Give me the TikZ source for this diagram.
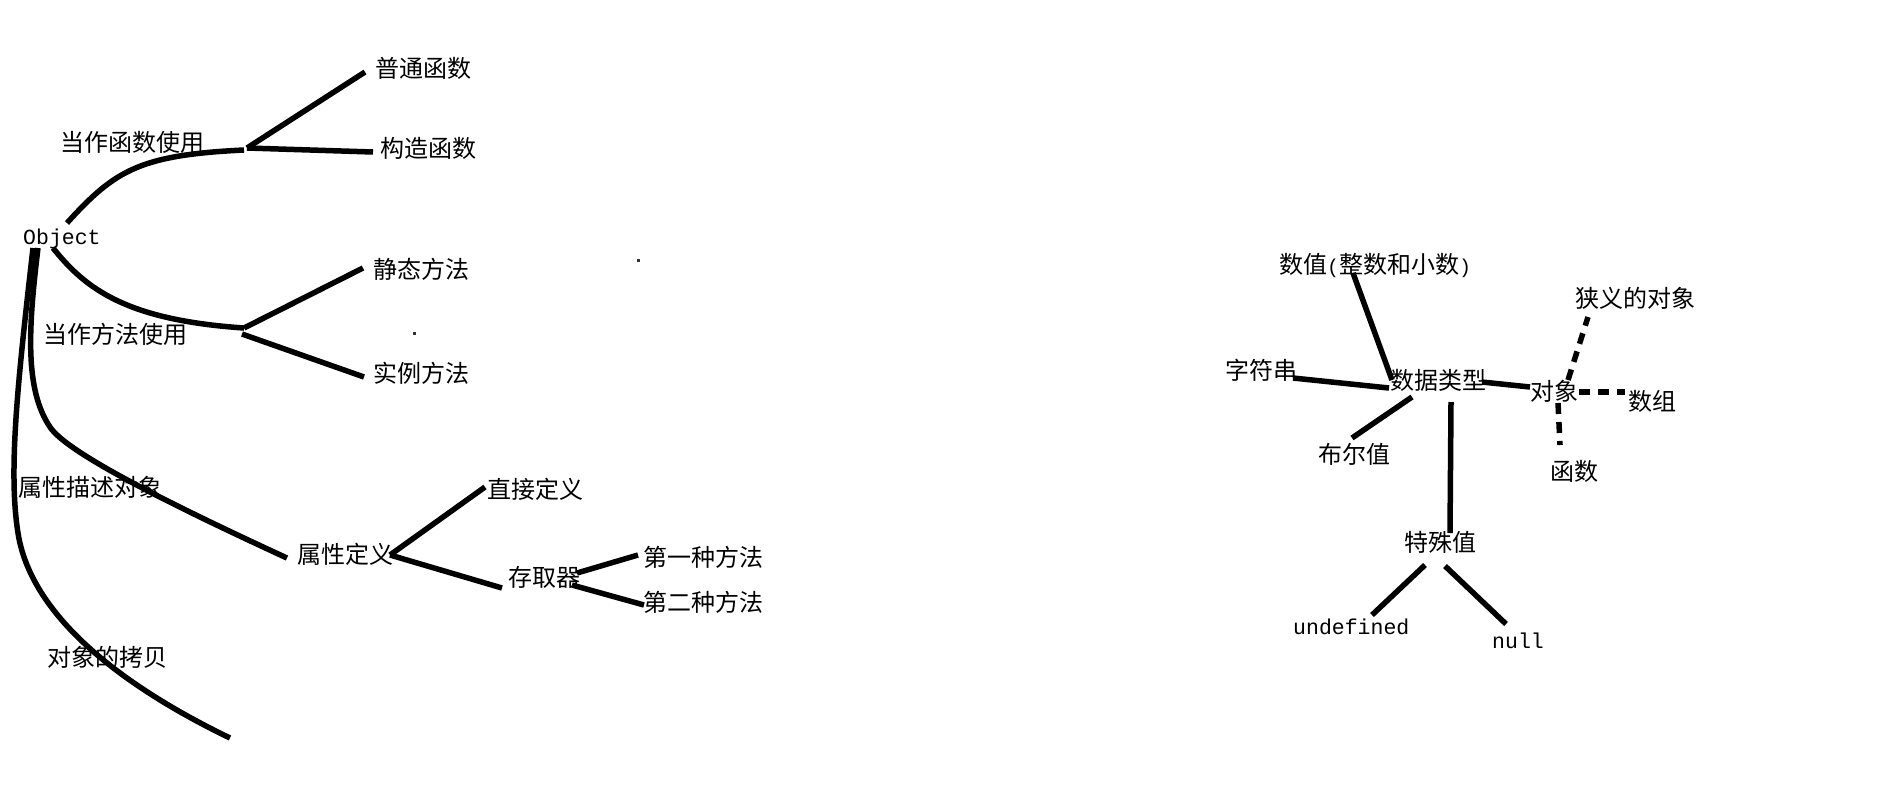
\documentclass[tikz,border=0pt]{standalone}
\usepackage{fontspec}
\newfontfamily\cjk{Noto Sans CJK SC}
\newfontfamily\monof{Liberation Mono}
\begin{document}
\begin{tikzpicture}[x=1pt,y=-1pt,
  zh/.style={font=\cjk\fontsize{24}{24}\selectfont, inner sep=0pt, anchor=west},
  en/.style={font=\monof\fontsize{21.5}{21.5}\selectfont, inner sep=0pt, anchor=base west},
  branch/.style={line width=5.5pt},
  dashbranch/.style={line width=5.5pt, dash pattern=on 11pt off 8pt}]
\fill[white] (0,0) rectangle (1886,793);
\useasboundingbox (0,0) rectangle (1886,793);

% ---------- left tree: labels ----------
\node[en] (obj) at (23,244) {Object};
\node[zh] (fnuse) at (60,142) {当作函数使用};
\node[zh] (ptfn) at (375,68) {普通函数};
\node[zh] (gzfn) at (380,148) {构造函数};
\node[zh] (mtuse) at (43,334) {当作方法使用};
\node[zh] (jtff) at (373,269) {静态方法};
\node[zh] (slff) at (373,373) {实例方法};
\node[zh] (sxms) at (18,487) {属性描述对象};
\node[zh] (sxdy) at (297,554) {属性定义};
\node[zh] (zjdy) at (487,489) {直接定义};
\node[zh] (cqq) at (508,577) {存取器};
\node[zh] (dyz) at (643,557) {第一种方法};
\node[zh] (dez) at (643,602) {第二种方法};
\node[zh] (dxkb) at (47,657) {对象的拷贝};

% ---------- left tree: connector ends ----------
\coordinate (oA) at (67,223);
\coordinate (jF) at (244,150);
\coordinate (jF2) at (247,148);
\coordinate (ptE) at (365,72);
\coordinate (gzE) at (373,152);
\coordinate (oB) at (53,248);
\coordinate (jM) at (244,328);
\coordinate (jM2) at (242,334);
\coordinate (jtE) at (363,268);
\coordinate (slE) at (364,377);
\coordinate (oL) at (33,248);
\coordinate (oLm) at (18,533);
\coordinate (kbE) at (230,738);
\coordinate (oR) at (38,248);
\coordinate (oRm) at (50,427);
\coordinate (sxE) at (287,558);
\coordinate (sxJ) at (390,555);
\coordinate (zjE) at (485,487);
\coordinate (cqE) at (502,588);
\coordinate (cq1) at (577,573);
\coordinate (m1E) at (638,555);
\coordinate (cq2) at (572,585);
\coordinate (m2E) at (644,605);

\draw[branch] (oA) .. controls (115,170) and (140,155) .. (jF);
\draw[branch] (jF2) -- (ptE);
\draw[branch] (jF2) -- (gzE);
\draw[branch] (oB) .. controls (85,288) and (125,320) .. (jM);
\draw[branch] (jM) -- (jtE);
\draw[branch] (jM2) -- (slE);
\draw[branch] (oL) .. controls (18,380) and (8,470) .. (oLm)
                   .. controls (30,610) and (110,680) .. (kbE);
\draw[branch] (oR) .. controls (28,330) and (25,390) .. (oRm)
                   .. controls (65,450) and (150,495) .. (sxE);
\draw[branch] (sxJ) -- (zjE);
\draw[branch] (sxJ) -- (cqE);
\draw[branch] (cq1) -- (m1E);
\draw[branch] (cq2) -- (m2E);

% stray specks
\fill[black!80] (637,259) rectangle (639.5,261.5);
\fill[black!80] (413,332) rectangle (415.5,334.5);

% ---------- right cluster: labels ----------
\node[zh] (sjlx) at (1390,380) {数据类型};
\node[zh] (sz) at (1279,265) {数值{\monof\fontsize{20}{20}\selectfont(}整数和小数{\monof\fontsize{20}{20}\selectfont)}};
\node[zh] (zfc) at (1225,370) {字符串};
\node[zh] (bez) at (1318,454) {布尔值};
\node[zh] (dx) at (1530,391) {对象};
\node[zh] (xydx) at (1575,298) {狭义的对象};
\node[zh] (shz) at (1628,401) {数组};
\node[zh] (hs) at (1550,471) {函数};
\node[zh] (tsz) at (1404,542) {特殊值};
\node[en] (ud) at (1293,634) {undefined};
\node[en] (nl) at (1492,648) {null};

% ---------- right cluster: connector ends ----------
\coordinate (dsA) at (1392,380);
\coordinate (szE) at (1353,273);
\coordinate (zfE) at (1293,378);
\coordinate (dsB) at (1389,388);
\coordinate (dsC) at (1482,382);
\coordinate (dxA) at (1530,387);
\coordinate (dx1) at (1568,380);
\coordinate (xyE) at (1588,317);
\coordinate (dx2) at (1579,392);
\coordinate (szE2) at (1625,392);
\coordinate (dx3) at (1558,403);
\coordinate (hsE) at (1560,445);
\coordinate (dsD) at (1412,397);
\coordinate (bezE) at (1352,438);
\coordinate (dsE) at (1451,402);
\coordinate (tsA) at (1450,533);
\coordinate (ts1) at (1425,565);
\coordinate (udE) at (1372,615);
\coordinate (ts2) at (1445,566);
\coordinate (nlE) at (1506,624);

\draw[branch] (dsA) -- (szE);
\draw[branch] (zfE) -- (dsB);
\draw[branch] (dsC) -- (dxA);
\draw[dashbranch] (dx1) -- (xyE);
\draw[dashbranch] (dx2) -- (szE2);
\draw[dashbranch] (dx3) -- (hsE);
\draw[branch] (dsD) -- (bezE);
\draw[branch] (dsE) -- (tsA);
\draw[branch] (ts1) -- (udE);
\draw[branch] (ts2) -- (nlE);
\end{tikzpicture}
\end{document}
